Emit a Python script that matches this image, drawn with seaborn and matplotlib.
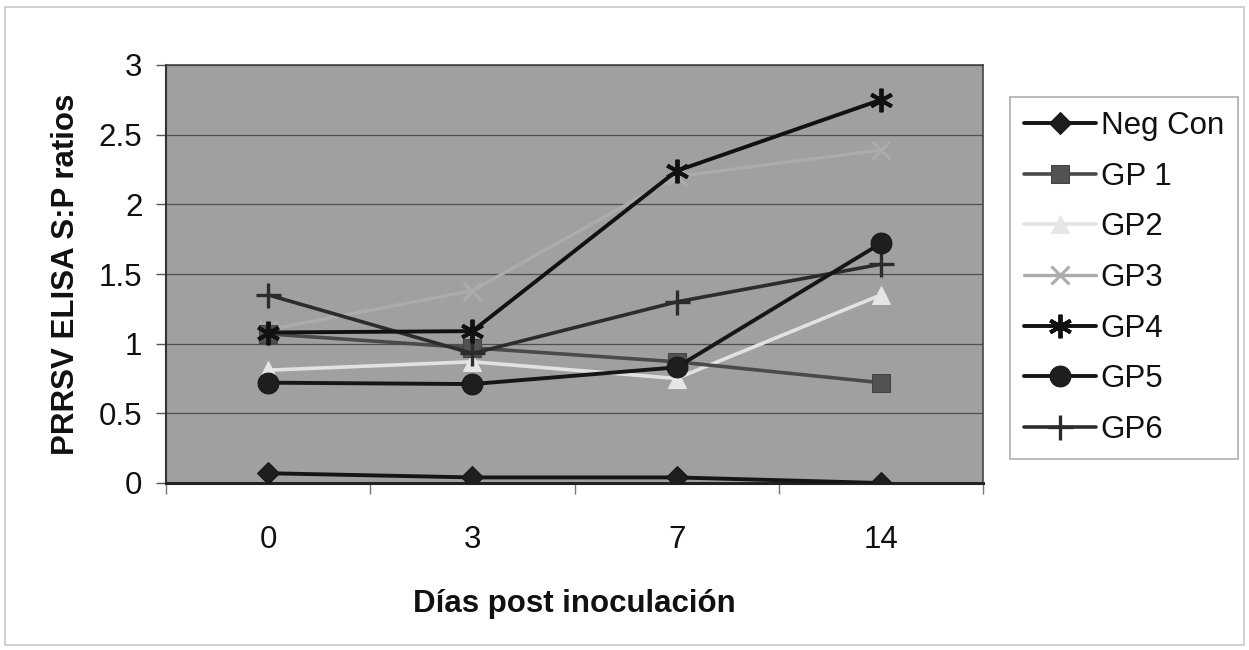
import numpy as np
import pandas as pd
import matplotlib
matplotlib.use("Agg")
import matplotlib.pyplot as plt
import seaborn as sns

# ---- data ----
days = ["0", "3", "7", "14"]
series_names = ["Neg Con", "GP 1", "GP2", "GP3", "GP4", "GP5", "GP6"]
neg_con = [0.07, 0.04, 0.04, 0.00]
gp1 = [1.07, 0.97, 0.87, 0.72]
gp2 = [0.81, 0.87, 0.75, 1.35]
gp3 = [1.10, 1.38, 2.20, 2.39]
gp4 = [1.08, 1.09, 2.24, 2.75]
gp5 = [0.72, 0.71, 0.83, 1.72]
gp6 = [1.35, 0.93, 1.30, 1.57]
y_ticks = [0, 0.5, 1, 1.5, 2, 2.5, 3]
y_tick_labels = ["0", "0.5", "1", "1.5", "2", "2.5", "3"]

values = [neg_con, gp1, gp2, gp3, gp4, gp5, gp6]

sns.set_theme(style="white")
plt.rcParams["font.family"] = ["Liberation Sans", "DejaVu Sans"]

fig = plt.figure(figsize=(12.49, 6.5), dpi=100)
fig.patch.set_facecolor("white")
ax = fig.add_axes([166 / 1249, 1 - 483 / 650, (983 - 166) / 1249, (483 - 65) / 650])
ax.set_facecolor("#a0a0a0")

styles = [
    dict(color="#151515", marker="D", markersize=11, mfc="#1e1e1e", mec="#151515", lw=2.8, zorder=5),
    dict(color="#4a4a4a", marker="s", markersize=13, mfc="#525252", mec="#444444", lw=2.6, zorder=4),
    dict(color="#e2e2e2", marker="^", markersize=13, mfc="#e6e6e6", mec="#e6e6e6", lw=2.6, zorder=3),
    dict(color="#acacac", marker="x", markersize=13, mfc="#acacac", mec="#acacac", mew=2.2, lw=2.4, zorder=2),
    dict(color="#111111", marker=(6, 2, 0), markersize=17, mfc="#111111", mec="#111111", mew=2.8, lw=2.8, zorder=6),
    dict(color="#161616", marker="o", markersize=15, mfc="#1e1e1e", mec="#161616", lw=2.8, zorder=5),
    dict(color="#2c2c2c", marker="+", markersize=18, mfc="#2c2c2c", mec="#2c2c2c", mew=2.4, lw=2.6, zorder=4),
]

x_pos = np.arange(len(days))
for name, vals, st in zip(series_names, values, styles):
    df = pd.DataFrame({"day": x_pos, "val": vals})
    sns.lineplot(data=df, x="day", y="val", ax=ax, label=name, estimator=None,
                 sort=False, **st)

ax.set_xlim(-0.5, len(days) - 0.5)
ax.set_ylim(0, 3)
ax.set_yticks(y_ticks)
ax.set_yticklabels(y_tick_labels)
ax.set_xticks(x_pos)
ax.set_xticklabels(days)
ax.set_xticks(np.arange(-0.5, len(days)), minor=True)
ax.grid(axis="y", color="#4f4f4f", lw=0.9)
ax.grid(axis="x", visible=False)
ax.set_axisbelow(True)

ax.tick_params(axis="y", which="major", direction="out", length=7, width=1, color="#555555",
               left=True, labelsize=22.5, pad=10, labelcolor="#111111")
ax.tick_params(axis="x", which="major", length=0, labelsize=22.5, pad=30, labelcolor="#111111")
ax.tick_params(axis="x", which="minor", direction="out", length=8, width=1, color="#777777", bottom=True)

for side in ["top", "right"]:
    ax.spines[side].set_color("#444444")
    ax.spines[side].set_linewidth(1.2)
ax.spines["left"].set_color("#333333")
ax.spines["left"].set_linewidth(1.5)
ax.spines["bottom"].set_color("#222222")
ax.spines["bottom"].set_linewidth(2.2)

ax.set_ylabel("PRRSV ELISA S:P ratios", fontsize=22.5, fontweight="bold", labelpad=13, color="#111111")
ax.set_xlabel("Días post inoculación", fontsize=22.5, fontweight="bold", labelpad=25, color="#111111")

leg = ax.legend(loc="upper left", bbox_to_anchor=(1010 / 1249, 1 - 97 / 650),
                bbox_transform=fig.transFigure, borderaxespad=0, frameon=True,
                fancybox=False, edgecolor="#9a9a9a", fontsize=22.5, labelspacing=0.66,
                handlelength=2.3, handletextpad=0.15, borderpad=0.45, numpoints=1)
leg.get_frame().set_linewidth(1.2)
for t in leg.get_texts():
    t.set_color("#111111")

# outer chart border
fig.add_artist(plt.Rectangle((5 / 1249, 5 / 650), 1 - 10 / 1249, 1 - 12 / 650,
                             transform=fig.transFigure, fill=False, edgecolor="#c8c8c8", lw=1.2))

fig.savefig("out.png", dpi=100, facecolor="white")
